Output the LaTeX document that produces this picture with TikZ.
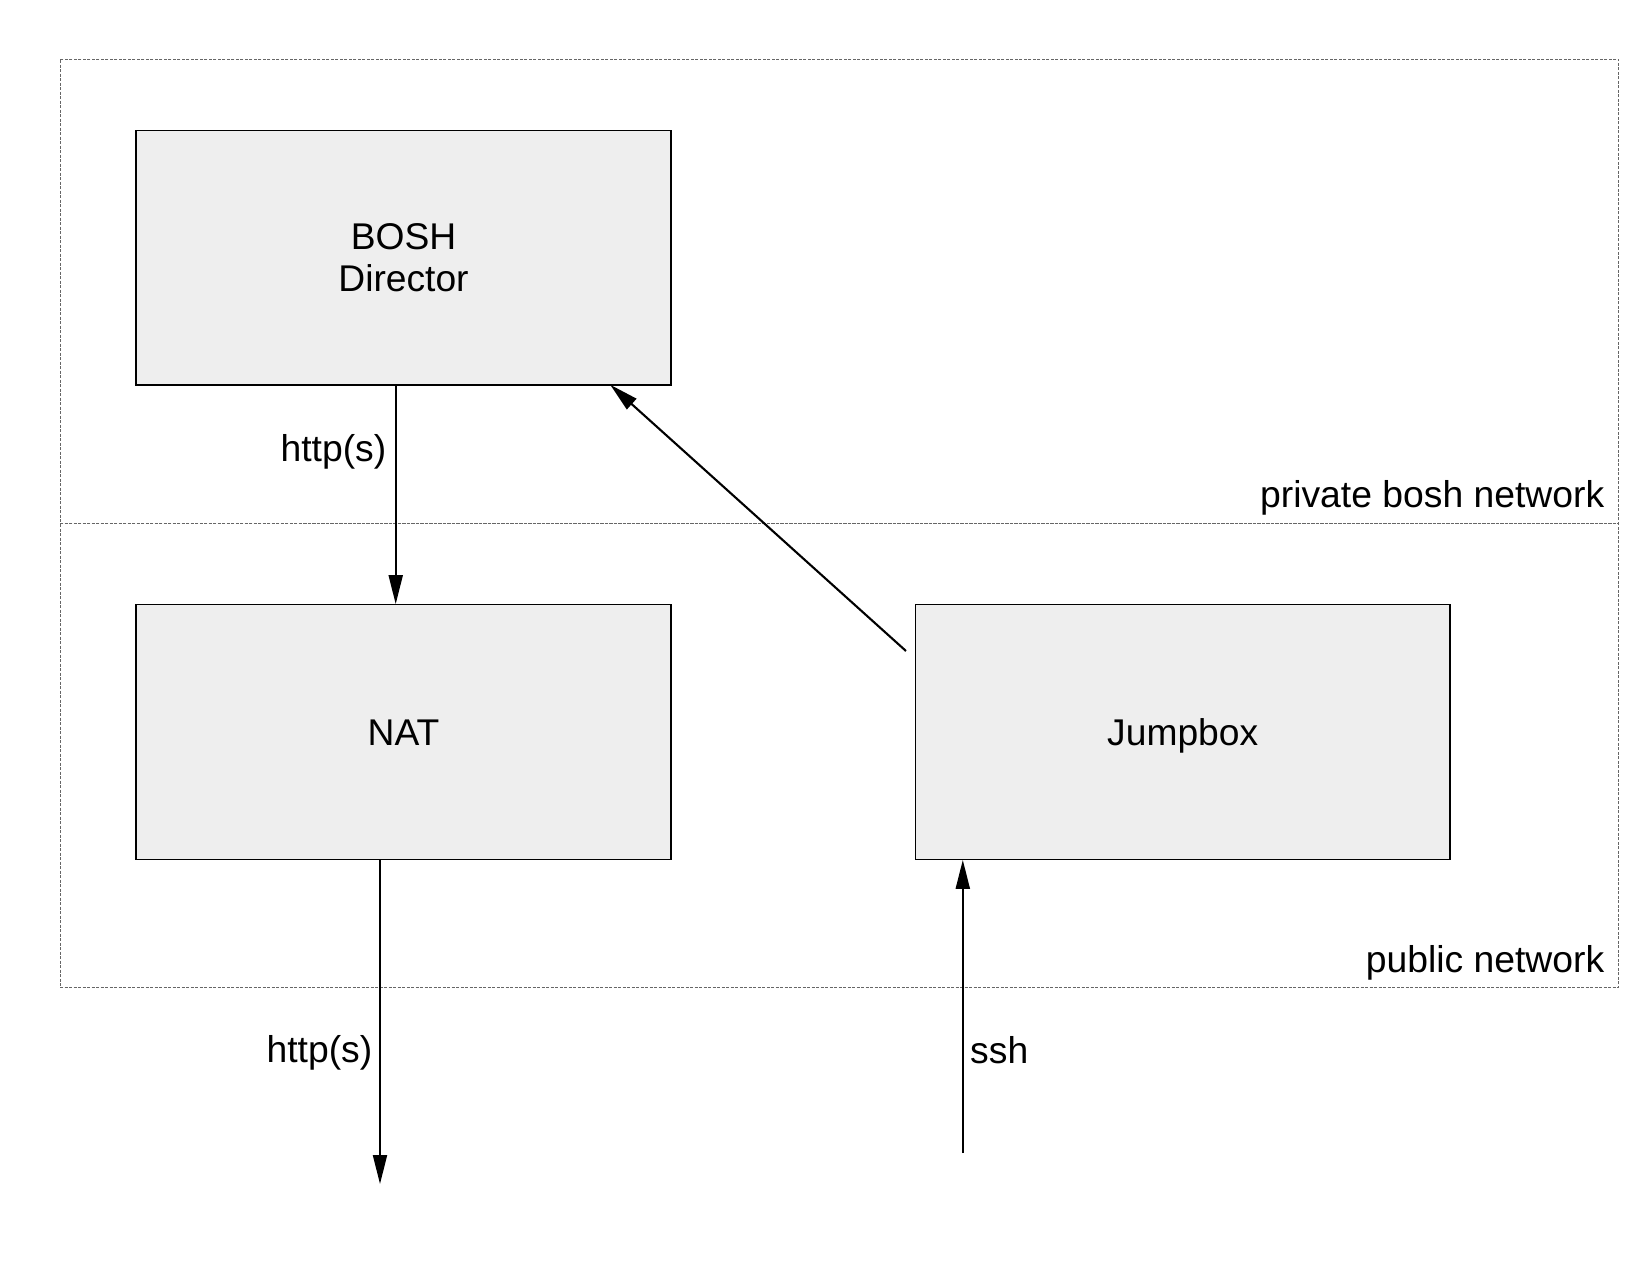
\documentclass[tikz,border=0pt]{standalone}
\usepackage{fontspec}
\setmainfont{Liberation Sans}
\usetikzlibrary{arrows.meta,calc}
\begin{document}
\begin{tikzpicture}[x=1pt,y=-1pt,
  box/.style={draw=black,line width=1.3pt,fill=boxgray,minimum width=535pt,minimum height=254.5pt,inner sep=0pt,align=center,font=\fontsize{37.2}{41.7}\selectfont},
  onebox/.style={box,text height=26.6pt,text depth=0pt},
  netarea/.style={draw=netgray,line width=1pt,dash pattern=on 3pt off 1.5pt,minimum width=1558.5pt,inner sep=0pt},
  lbl/.style={inner sep=0pt,font=\fontsize{37.3}{41.7}\selectfont},
  conn/.style={line width=2.1pt,-{Triangle[length=29pt,width=14pt]}}]
\definecolor{boxgray}{HTML}{EEEEEE}
\definecolor{netgray}{HTML}{666666}
\useasboundingbox (0,0) rectangle (1650,1275);
\fill[white] (0,0) rectangle (1650,1275);
% network areas
\node[netarea,minimum height=464pt] (private) at (839.25,291) {};
\node[netarea,minimum height=464pt] (public) at (839.25,755) {};
\node[lbl,anchor=base east] (privlbl) at (1604.5,507.5) {private bosh network};
\node[lbl,anchor=base east] (publbl) at (1604.5,972) {public network};
% boxes
\node[box] (bosh) at (403.5,257.8) {BOSH\\Director};
\node[onebox] (nat) at (403.5,732) {NAT};
\node[onebox,minimum width=534.5pt] (jump) at (1182.7,732) {Jumpbox};
% free ends
\coordinate (natout) at (380,1184);
\coordinate (sshin) at (962.8,1153);
\coordinate (jstart) at (906,651);
% connectors
\draw[conn] (bosh.south -| 395.7,0) -- (nat.north -| 395.7,0);
\draw[conn] (nat.south -| natout) -- (natout);
\draw[conn] (sshin) -- (jump.south -| sshin);
\draw[conn] (jstart) -- ($(bosh.south east)+(-61.5,-1)$);
% labels
\node[lbl,anchor=base east] (l1) at (386.5,461.3) {http(s)};
\node[lbl,anchor=base east] (l2) at (372.5,1062) {http(s)};
\node[lbl,anchor=base west] (l3) at (970,1063) {ssh};
\end{tikzpicture}
\end{document}
